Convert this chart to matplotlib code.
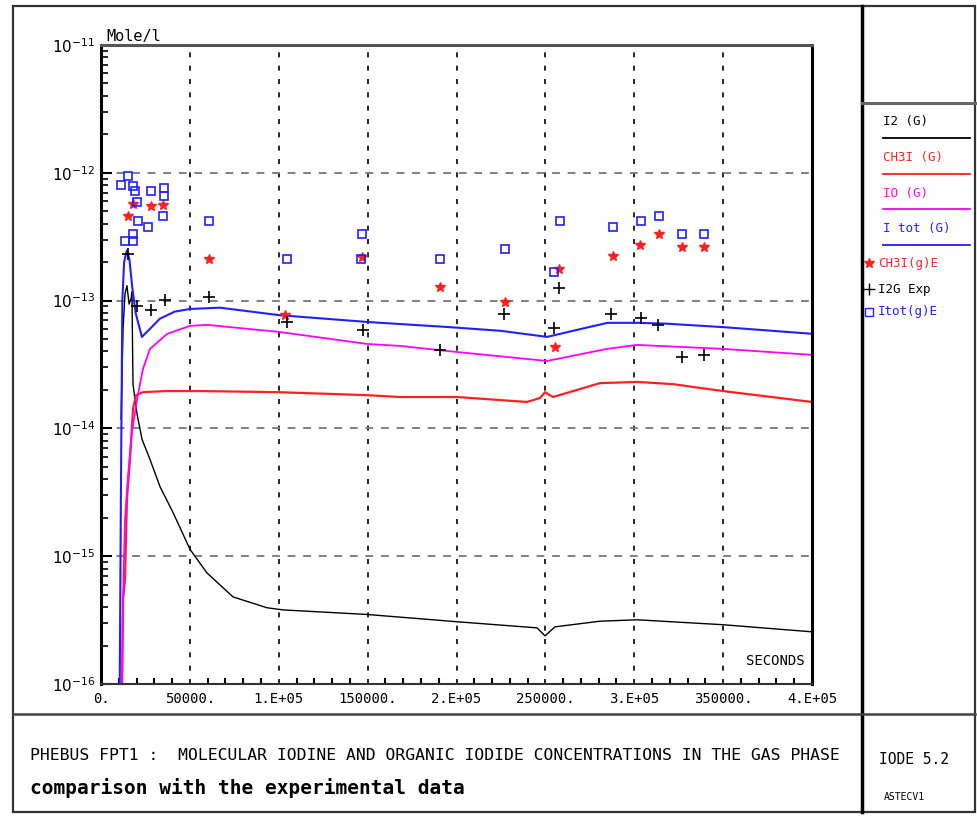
import numpy as np
import matplotlib.pyplot as plt
from matplotlib.lines import Line2D
from matplotlib.patches import Rectangle
from matplotlib.ticker import FixedLocator, FixedFormatter, NullFormatter

# --- calculated concentrations (mole/l) vs time (s) ---
t_i2 = [11300, 12400, 13500, 14600, 15800, 16900, 17400, 18000, 20300, 23100, 27600, 33200,
        40500, 50100, 59600, 74300, 93400, 102400, 149700, 200300, 245300, 249800, 255400,
        280700, 301600, 349900, 400000]
c_i2 = [1.18e-14, 6.0e-14, 1.13e-13, 1.31e-13, 9.4e-14, 1.03e-13, 1.17e-13, 2.22e-14, 1.29e-14,
        8.2e-15, 5.7e-15, 3.5e-15, 2.2e-15, 1.13e-15, 7.4e-16, 4.8e-16, 3.95e-16, 3.8e-16,
        3.5e-16, 3.07e-16, 2.75e-16, 2.38e-16, 2.8e-16, 3.1e-16, 3.18e-16, 2.91e-16, 2.56e-16]

t_ch3i = [11800, 12400, 13500, 14600, 16300, 18000, 19700, 23600, 37100, 55700, 100100, 149700,
          168200, 200300, 239700, 247000, 249800, 254300, 280700, 301600, 321800, 349900, 400000]
c_ch3i = [8e-17, 4.56e-16, 6.55e-16, 2.78e-15, 5.73e-15, 1.42e-14, 1.82e-14, 1.92e-14, 1.96e-14,
          1.96e-14, 1.92e-14, 1.82e-14, 1.76e-14, 1.76e-14, 1.61e-14, 1.73e-14, 1.92e-14,
          1.76e-14, 2.26e-14, 2.31e-14, 2.22e-14, 1.96e-14, 1.61e-14]

t_io = [11800, 12400, 13500, 15200, 17400, 20300, 23600, 27600, 37100, 50100, 59600, 100100,
        149700, 168200, 200300, 250900, 284700, 301600, 349900, 400000]
c_io = [8e-17, 4.56e-16, 1.94e-15, 4.22e-15, 9.33e-15, 1.69e-14, 2.92e-14, 4.19e-14, 5.48e-14,
        6.34e-14, 6.46e-14, 5.69e-14, 4.58e-14, 4.42e-14, 3.96e-14, 3.37e-14, 4.19e-14,
        4.50e-14, 4.19e-14, 3.76e-14]

t_itot = [10500, 11200, 12000, 13000, 14500, 16000, 17500, 19500, 23000, 27500, 33000, 41500,
          50000, 67000, 100000, 150000, 196000, 225000, 251000, 270000, 285000, 302000, 318000,
          350000, 400000]
c_itot = [8e-17, 3e-15, 1.0e-13, 2.0e-13, 2.46e-13, 2.1e-13, 1.3e-13, 8e-14, 5.2e-14, 6.0e-14,
          7.2e-14, 8.2e-14, 8.6e-14, 8.8e-14, 7.7e-14, 6.8e-14, 6.2e-14, 5.8e-14, 5.2e-14,
          6.0e-14, 6.7e-14, 6.7e-14, 6.6e-14, 6.2e-14, 5.5e-14]

# --- experimental points ---
t_ch3i_exp = [15200, 18000, 28100, 34900, 60800, 103500, 146800, 190700, 227300, 255400, 257700,
              288100, 303200, 313900, 326900, 339300]
c_ch3i_exp = [4.63e-13, 5.75e-13, 5.45e-13, 5.55e-13, 2.13e-13, 7.74e-14, 2.21e-13, 1.28e-13,
              9.80e-14, 4.34e-14, 1.78e-13, 2.25e-13, 2.74e-13, 3.34e-13, 2.64e-13, 2.64e-13]

t_i2_exp = [15200, 20300, 28100, 36000, 60800, 104600, 147400, 190700, 226700, 254900, 257700,
            286900, 303800, 313400, 326900, 339300]
c_i2_exp = [2.33e-13, 9.10e-14, 8.47e-14, 1.01e-13, 1.07e-13, 6.82e-14, 5.90e-14, 4.11e-14,
            7.87e-14, 6.12e-14, 1.26e-13, 7.87e-14, 7.33e-14, 6.46e-14, 3.62e-14, 3.76e-14]

t_itot_exp = [11300, 15200, 18000, 19100, 20300, 28100, 35400, 35400, 34900, 20800, 26400, 18000,
              13500, 18000, 60800, 104600, 146800, 146300, 190700, 227300, 258200, 254900,
              288100, 303800, 313900, 326900, 339300]
c_itot_exp = [7.96e-13, 9.37e-13, 7.82e-13, 7.14e-13, 5.96e-13, 7.14e-13, 7.67e-13, 6.53e-13,
              4.63e-13, 4.23e-13, 3.79e-13, 3.34e-13, 2.94e-13, 2.94e-13, 4.23e-13, 2.13e-13,
              3.34e-13, 2.13e-13, 2.13e-13, 2.55e-13, 4.23e-13, 1.68e-13, 3.79e-13, 4.23e-13,
              4.63e-13, 3.34e-13, 3.34e-13]

x_ticks = [0, 50000, 100000, 150000, 200000, 250000, 300000, 350000, 400000]
x_labels = ['0.', '50000.', '1.E+05', '150000.', '2.E+05', '250000.', '3.E+05', '350000.', '4.E+05']
y_ticks = [1e-16, 1e-15, 1e-14, 1e-13, 1e-12, 1e-11]
y_labels = [r'$10^{-16}$', r'$10^{-15}$', r'$10^{-14}$', r'$10^{-13}$', r'$10^{-12}$', r'$10^{-11}$']

legend_lines = [('I2 (G)', 'black'), ('CH3I (G)', '#ff2020'), ('IO (G)', '#ff00ff'), ('I tot (G)', '#2020ff')]

MONO = 'DejaVu Sans Mono'
W, H = 978, 818


def fx(px):
    return px / W


def fy(py):
    return 1 - py / H


fig = plt.figure(figsize=(W / 100, H / 100), dpi=100)
ax = fig.add_axes([fx(101), fy(684), fx(812) - fx(101), fy(45) - fy(684)])

ax.plot(t_i2, c_i2, color='black', lw=1.0)
ax.plot(t_ch3i, c_ch3i, color='#ff2020', lw=1.6)
ax.plot(t_io, c_io, color='#ff00ff', lw=1.3)
ax.plot(t_itot, c_itot, color='#2020ff', lw=1.5)

ax.plot(t_ch3i_exp, c_ch3i_exp, ls='none', marker='*', color='#ff2020', ms=7)
ax.plot(t_i2_exp, c_i2_exp, ls='none', marker='+', color='black', ms=9, mew=1.2)
ax.plot(t_itot_exp, c_itot_exp, ls='none', marker='s', mfc='none', mec='#2020ff', ms=6, mew=1.2)

ax.set_yscale('log')
ax.set_xlim(0, 400000)
ax.set_ylim(1e-16, 1e-11)

ax.xaxis.set_major_locator(FixedLocator(x_ticks))
ax.xaxis.set_major_formatter(FixedFormatter(x_labels))
ax.xaxis.set_minor_locator(FixedLocator(np.arange(0, 400001, 10000)))
ax.yaxis.set_major_locator(FixedLocator(y_ticks))
ax.yaxis.set_major_formatter(FixedFormatter(y_labels))
ax.yaxis.set_minor_formatter(NullFormatter())

ax.tick_params(axis='x', which='major', direction='in', length=0, labelsize=10, pad=6)
ax.tick_params(axis='x', which='minor', direction='in', length=4, width=1.5)
ax.tick_params(axis='y', which='major', direction='in', length=8, width=1.5, labelsize=11, pad=4)
ax.tick_params(axis='y', which='minor', direction='in', length=5, width=1.2)
for lab in ax.get_xticklabels():
    lab.set_family(MONO)

ax.xaxis.grid(True, color='black', ls=(0, (3, 5)), lw=1.2)
ax.yaxis.grid(True, which='major', color='gray', ls=(0, (4, 4)), lw=1.4)

for side in ['left', 'right']:
    ax.spines[side].set_linewidth(2.2)
ax.spines['top'].set_color('#555555')
ax.spines['top'].set_linewidth(2.2)
ax.spines['bottom'].set_color('#333333')
ax.spines['bottom'].set_linewidth(1.5)

ax.text(0.99, 0.025, 'SECONDS', transform=ax.transAxes, ha='right', va='bottom',
        fontsize=10, family=MONO)
fig.text(fx(106), fy(36), 'Mole/l', fontsize=11, family=MONO, ha='left', va='center')

# frame of the drawing sheet
fig.add_artist(Rectangle((fx(13), fy(812)), fx(975) - fx(13), fy(6) - fy(812),
                         transform=fig.transFigure, fill=False, lw=1.6, ec='#333333'))
fig.add_artist(Line2D([fx(862), fx(862)], [fy(6), fy(812)], color='black', lw=2.5))
fig.add_artist(Line2D([fx(13), fx(975)], [fy(714), fy(714)], color='#444444', lw=1.8))
fig.add_artist(Line2D([fx(862), fx(975)], [fy(103), fy(103)], color='#666666', lw=2.2))

# legend panel
for i, (name, col) in enumerate(legend_lines):
    ty = 122 + i * 35.5
    fig.text(fx(883), fy(ty), name, color=col, fontsize=9, family=MONO, ha='left', va='center')
    fig.add_artist(Line2D([fx(883), fx(970)], [fy(ty + 16), fy(ty + 16)], color=col, lw=1.3))

fig.add_artist(Line2D([fx(869)], [fy(263)], marker='*', color='#ff2020', ms=7, ls='none'))
fig.text(fx(878), fy(263), 'CH3I(g)E', color='#ff2020', fontsize=9, family=MONO, ha='left', va='center')
fig.add_artist(Line2D([fx(869)], [fy(289)], marker='+', color='black', ms=8, ls='none'))
fig.text(fx(878), fy(289), 'I2G Exp', color='black', fontsize=9, family=MONO, ha='left', va='center')
fig.add_artist(Line2D([fx(869)], [fy(312)], marker='s', mfc='none', mec='#2020ff', ms=6, ls='none'))
fig.text(fx(878), fy(312), 'Itot(g)E', color='#2020ff', fontsize=9, family=MONO, ha='left', va='center')

# title block
fig.text(fx(30), fy(756), 'PHEBUS FPT1 :  MOLECULAR IODINE AND ORGANIC IODIDE CONCENTRATIONS IN THE GAS PHASE',
         fontsize=11.8, family=MONO, ha='left', va='center')
fig.text(fx(30), fy(788), 'comparison with the experimental data', fontsize=14, fontweight='bold',
         family=MONO, ha='left', va='center')
fig.text(fx(879), fy(760), 'IODE 5.2', fontsize=10.5, family=MONO, ha='left', va='center')
fig.text(fx(884), fy(797), 'ASTECV1', fontsize=7, family=MONO, ha='left', va='center')

fig.savefig('out.png', dpi=100)
